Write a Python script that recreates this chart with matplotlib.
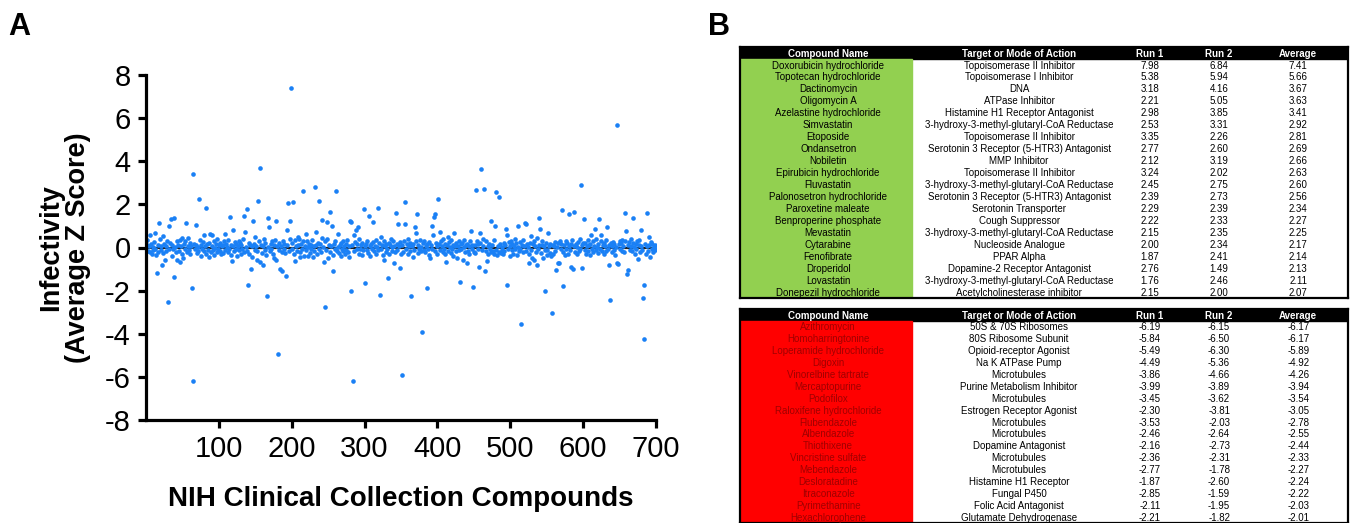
import numpy as np
import matplotlib
matplotlib.use("Agg")
import matplotlib.pyplot as plt
from matplotlib.patches import Rectangle

# ---- panel A: average Z score per compound (compound index 1..700) ----
z_scores = [
    0.35, 0.12, -0.15, 0.05, 0.57, -0.22, 0.18, -0.30, 0.02, -0.10,
    0.25, 0.68, -0.05, -0.35, -1.17, 0.10, -0.20, 1.13, 0.40, -0.12,
    0.08, -0.80, -0.25, 0.55, 0.15, -0.57, 0.05, -0.18, 0.30, -2.55,
    -0.08, 1.00, 0.20, 1.34, -0.40, 0.12, -0.05, -1.38, 1.39, 0.03,
    -0.22, 0.28, -0.60, 0.10, -0.15, -0.67, 0.35, 0.07, -0.28, 0.45,
    -0.50, 0.15, -0.05, 0.30, 1.14, -0.20, 0.08, 0.45, -0.12, 0.22,
    -0.30, 0.05, -1.89, 3.41, -6.17, 0.18, -0.08, 1.04, 0.12, -0.25,
    0.02, -0.15, 2.27, 0.35, -0.40, 0.10, -0.05, 0.25, 0.59, -0.18,
    0.07, -0.30, 1.81, 0.15, -0.10, -0.43, 0.20, 0.62, -0.22, 0.05,
    0.60, -0.12, 0.28, -0.35, 0.00, 0.15, -0.20, 0.38, -0.08, 0.10,
    -0.15, 0.22, -0.30, 0.05, 0.12, -0.25, 0.30, 0.62, -0.10, 0.18,
    0.02, -0.20, 0.35, -0.05, 1.41, 0.10, -0.35, -0.63, 0.79, 0.08,
    -0.18, 0.25, -0.08, 0.15, -0.40, 0.05, 0.30, -0.12, 0.20, -0.28,
    0.10, -0.05, 0.40, 1.45, -0.20, 0.73, 0.03, 1.79, -0.15, -1.76,
    0.22, -0.30, 0.12, -1.00, 0.05, -0.45, 1.24, 0.18, -0.10, 0.50,
    0.08, -0.57, -0.15, 2.17, 0.30, 3.67, -0.65, 0.12, -0.25, -0.83,
    0.05, 0.40, -0.10, 0.20, -0.35, -2.27, 1.39, 0.02, 0.94, -0.18,
    0.15, -0.05, 0.28, -0.30, 0.10, -0.48, 0.35, 1.24, -0.60, 0.05,
    -4.92, 0.22, -0.12, -1.00, 0.08, -0.20, -1.10, 0.30, -0.05, 0.15,
    -0.25, -1.34, 0.80, 0.10, 2.07, -0.15, 1.22, 0.40, 7.41, -0.08,
    0.20, 2.13, -0.30, 0.35, -0.62, 0.05, -0.15, 0.50, 0.10, 0.40,
    -0.22, -0.45, 0.15, -0.05, 2.63, 0.28, -0.40, 0.08, 0.62, -0.12,
    0.30, -0.40, 0.02, 0.18, -0.25, 0.12, -0.08, 0.35, -0.45, 0.05,
    -0.18, 2.81, 0.73, 0.10, -0.30, 0.22, -0.05, 2.14, 0.15, -0.20,
    0.45, 1.28, 0.02, -0.68, -2.78, 0.30, -0.10, 1.16, 0.38, -0.48,
    0.10, 1.65, -0.20, 0.05, 0.99, -0.35, -1.07, 0.15, -0.08, 0.28,
    2.60, -0.15, 0.02, 0.62, -0.25, 0.12, -0.40, 0.20, -0.05, 0.30,
    -0.18, 0.08, -0.30, 0.18, -0.10, 0.35, -0.22, 0.05, -0.45, 1.22,
    1.18, -2.01, 0.10, -6.17, -0.15, 0.59, 0.25, 0.80, -0.08, 0.15,
    0.94, -0.28, 0.40, -0.05, 0.12, -0.35, 0.22, -0.12, 1.78, 0.05,
    -1.65, 0.18, -0.10, 0.30, -0.25, 1.45, 0.05, -0.40, 0.15, -0.05,
    0.25, 1.17, -0.18, 0.08, -0.30, 0.35, 0.02, -0.12, 1.81, 0.20,
    -2.22, -0.08, 0.49, 0.12, -0.35, -0.59, 0.28, 0.05, -0.20, 0.15,
    -0.05, -1.42, 0.22, -0.28, 0.10, 0.40, -0.15, 0.02, 0.30, -0.70,
    0.08, -0.22, 1.62, 0.18, -0.10, 1.11, 0.05, -0.97, 0.25, -0.30,
    -5.89, 0.12, -0.20, 0.30, 1.07, 2.11, -0.05, 0.15, -0.30, 0.40,
    0.05, -0.15, 0.22, -2.24, 0.08, -0.43, 0.18, -0.10, 0.93, 0.28,
    0.65, 1.56, -0.25, 0.10, -0.05, 0.35, -0.18, 0.02, -3.94, 0.20,
    -0.12, 0.30, -0.22, 0.05, -1.89, 0.15, -0.08, 0.25, -0.35, -0.50,
    0.12, 0.99, -0.05, 0.60, 1.42, 1.55, -0.15, 0.20, -0.28, 0.08,
    2.25, 0.15, 0.73, -0.10, 0.30, 0.05, -0.20, 0.40, -0.05, 0.18,
    -0.30, -0.66, 0.10, 0.49, -0.15, 0.25, 0.02, -0.25, 0.35, -0.08,
    0.12, -0.40, 0.68, 0.05, -0.18, 0.22, -0.50, 0.08, -0.12, 0.30,
    -1.61, 0.15, -0.05, 0.20, -0.60, 0.02, 0.35, -0.22, 0.10, -0.74,
    0.18, -0.15, 0.05, -0.30, 0.28, 0.76, -0.08, 0.12, -1.85, -0.20,
    0.10, -0.25, 2.66, 0.30, -0.05, 0.15, -0.90, 0.22, 0.65, 3.63,
    -0.12, 0.40, 0.05, 2.69, -1.08, -0.18, 0.28, -0.63, 0.08, -0.30,
    0.18, -0.05, 1.22, -0.22, 0.12, -0.15, 0.35, -0.28, 1.00, 2.56,
    -0.10, -0.35, 0.05, 2.34, -0.20, 0.15, -0.25, -0.12, 0.02, -0.30,
    0.20, -0.15, 0.10, 0.88, -1.75, 0.60, -0.08, 0.25, -0.40, 0.05,
    0.30, -0.12, 0.15, -0.28, 0.08, 0.40, -0.05, 0.20, -0.35, 0.02,
    0.99, -0.18, 0.25, -0.08, -3.54, 0.12, -0.22, 0.35, 0.05, 1.14,
    1.10, -0.15, 0.18, 0.02, -0.30, -0.74, 0.22, 0.54, -0.10, -0.48,
    0.15, 0.30, -0.60, 0.08, -0.20, -0.79, 0.45, -0.05, 0.12, 1.39,
    0.88, -0.25, 0.10, 0.28, -0.50, 0.05, -0.12, -2.03, 0.20, -0.35,
    -0.10, 0.65, 0.05, -0.25, 0.18, -0.40, -3.05, 0.12, -0.30, 0.08,
    0.25, -0.15, -1.05, 0.02, -0.74, 0.20, -0.70, 0.30, -0.08, 0.15,
    1.72, -0.20, -1.79, 0.10, -0.35, 0.30, -0.05, 0.22, -0.28, 0.05,
    1.55, -0.12, 0.18, -0.90, 0.35, -1.00, 1.64, 0.08, -0.22, 0.15,
    -0.30, 0.02, 0.25, -0.15, 0.40, -0.05, 2.92, 0.12, -0.93, 0.20,
    1.31, -0.10, 0.22, -0.28, 0.05, 0.35, -0.15, 0.12, -0.35, 0.18,
    0.60, -0.05, 0.28, -0.20, 0.08, 0.85, -0.12, 0.40, 0.02, -0.25,
    0.15, 1.30, -0.08, 0.30, 0.57, -0.18, 0.10, -0.30, 0.22, 0.05,
    -0.15, 0.35, 0.96, -0.05, 0.12, -0.80, -2.44, 0.20, -0.22, 0.08,
    0.25, -0.10, 0.15, -0.35, 0.02, -0.73, 5.66, -0.78, 0.18, 0.30,
    -0.05, 0.20, -0.15, 0.35, 0.08, -0.22, 1.58, 0.30, 0.77, -1.24,
    -1.04, 0.12, 0.25, -0.10, 0.40, 0.05, -0.18, 0.22, 1.38, 0.02,
    -0.30, 0.15, -0.08, 0.28, -0.55, 0.10, 0.35, -0.20, 0.79, 0.05,
    -0.12, -2.33, -1.72, -4.26, 0.18, -0.28, 1.61, 0.08, -0.15, 0.49,
    0.12, -0.43, 0.25, -0.05, 0.15, -0.20, 0.02, -0.12, 0.10, -0.08,
]
compound_idx = np.arange(1, len(z_scores) + 1)
x_ticks = [100, 200, 300, 400, 500, 600, 700]
y_ticks = [-8, -6, -4, -2, 0, 2, 4, 6, 8]

# ---- panel B: top hits ----
up_names = ["Doxorubicin hydrochloride", "Topotecan hydrochloride", "Dactinomycin",
            "Oligomycin A", "Azelastine hydrochloride", "Simvastatin", "Etoposide",
            "Ondansetron", "Nobiletin", "Epirubicin hydrochloride", "Fluvastatin",
            "Palonosetron hydrochloride", "Paroxetine maleate", "Benproperine phosphate",
            "Mevastatin", "Cytarabine", "Fenofibrate", "Droperidol", "Lovastatin",
            "Donepezil hydrochloride"]
up_targets = ["Topoisomerase II Inhibitor", "Topoisomerase I Inhibitor", "DNA",
              "ATPase Inhibitor", "Histamine H1 Receptor Antagonist",
              "3-hydroxy-3-methyl-glutaryl-CoA Reductase", "Topoisomerase II Inhibitor",
              "Serotonin 3 Receptor (5-HTR3) Antagonist", "MMP Inhibitor",
              "Topoisomerase II Inhibitor", "3-hydroxy-3-methyl-glutaryl-CoA Reductase",
              "Serotonin 3 Receptor (5-HTR3) Antagonist", "Serotonin Transporter",
              "Cough Suppressor", "3-hydroxy-3-methyl-glutaryl-CoA Reductase",
              "Nucleoside Analogue", "PPAR Alpha", "Dopamine-2 Receptor Antagonist",
              "3-hydroxy-3-methyl-glutaryl-CoA Reductase", "Acetylcholinesterase inhibitor"]
up_run1 = [7.98, 5.38, 3.18, 2.21, 2.98, 2.53, 3.35, 2.77, 2.12, 3.24,
           2.45, 2.39, 2.29, 2.22, 2.15, 2.00, 1.87, 2.76, 1.76, 2.15]
up_run2 = [6.84, 5.94, 4.16, 5.05, 3.85, 3.31, 2.26, 2.60, 3.19, 2.02,
           2.75, 2.73, 2.39, 2.33, 2.35, 2.34, 2.41, 1.49, 2.46, 2.00]
up_avg = [7.41, 5.66, 3.67, 3.63, 3.41, 2.92, 2.81, 2.69, 2.66, 2.63,
          2.60, 2.56, 2.34, 2.27, 2.25, 2.17, 2.14, 2.13, 2.11, 2.07]

down_names = ["Azithromycin", "Homoharringtonine", "Loperamide hydrochloride", "Digoxin",
              "Vinorelbine tartrate", "Mercaptopurine", "Podofilox",
              "Raloxifene hydrochloride", "Flubendazole", "Albendazole", "Thiothixene",
              "Vincristine sulfate", "Mebendazole", "Desloratadine", "Itraconazole",
              "Pyrimethamine", "Hexachlorophene"]
down_targets = ["50S & 70S Ribosomes", "80S Ribosome Subunit", "Opioid-receptor Agonist",
                "Na K ATPase Pump", "Microtubules", "Purine Metabolism Inhibitor",
                "Microtubules", "Estrogen Receptor Agonist", "Microtubules", "Microtubules",
                "Dopamine Antagonist", "Microtubules", "Microtubules",
                "Histamine H1 Receptor", "Fungal P450", "Folic Acid Antagonist",
                "Glutamate Dehydrogenase"]
down_run1 = [-6.19, -5.84, -5.49, -4.49, -3.86, -3.99, -3.45, -2.30, -3.53, -2.46,
             -2.16, -2.36, -2.77, -1.87, -2.85, -2.11, -2.21]
down_run2 = [-6.15, -6.50, -6.30, -5.36, -4.66, -3.89, -3.62, -3.81, -2.03, -2.64,
             -2.73, -2.31, -1.78, -2.60, -1.59, -1.95, -1.82]
down_avg = [-6.17, -6.17, -5.89, -4.92, -4.26, -3.94, -3.54, -3.05, -2.78, -2.55,
            -2.44, -2.33, -2.27, -2.24, -2.22, -2.03, -2.01]

headers = ["Compound Name", "Target or Mode of Action", "Run 1", "Run 2", "Average"]

plt.rcParams["font.family"] = ["Liberation Sans", "DejaVu Sans"]
plt.rcParams["axes.unicode_minus"] = False

fig = plt.figure(figsize=(13.53, 5.23), dpi=100)

# panel A
ax = fig.add_axes([146 / 1353, 1 - 420 / 523, 510 / 1353, 345 / 523])
ax.axhline(0, color="#222222", lw=1.6, zorder=1)
ax.scatter(compound_idx, z_scores, s=11, color="#1a80f5", linewidths=0, zorder=2)
ax.set_xlim(0, 700)
ax.set_ylim(-8, 8)
ax.set_xticks(x_ticks)
ax.set_yticks(y_ticks)
for s in ["top", "right"]:
    ax.spines[s].set_visible(False)
for s in ["left", "bottom"]:
    ax.spines[s].set_linewidth(2.3)
ax.tick_params(width=2.3, length=6, pad=5, labelsize=21)
ax.set_xlabel("NIH Clinical Collection Compounds", fontsize=20, fontweight="bold",
              labelpad=16)
ax.set_ylabel("Infectivity\n(Average Z Score)", fontsize=19.5, fontweight="bold",
              labelpad=10, linespacing=1.05)

fig.text(8 / 1353, 1 - 35 / 523, "A", fontsize=22, fontweight="bold")
fig.text(708 / 1353, 1 - 35 / 523, "B", fontsize=22, fontweight="bold")

col_x = [0.145, 0.459, 0.674, 0.788, 0.918]
name_w = 0.283


def draw_table(tax, names, targets, r1, r2, av, fill, name_color):
    n = len(names)
    tax.set_xlim(0, 1)
    tax.set_ylim(n + 1, 0)
    tax.set_xticks([])
    tax.set_yticks([])
    for sp in tax.spines.values():
        sp.set_linewidth(1.6)
    tax.add_patch(Rectangle((0, 0), 1, 1, color="black"))
    tax.add_patch(Rectangle((0, 1), name_w, n, color=fill))
    for x, h in zip(col_x, headers):
        tax.text(x, 0.55, h, ha="center", va="center", color="white",
                 fontsize=7, fontweight="bold")
    for i in range(n):
        y = i + 1.55
        vals = [names[i], targets[i], f"{r1[i]:.2f}", f"{r2[i]:.2f}", f"{av[i]:.2f}"]
        for j, (x, v) in enumerate(zip(col_x, vals)):
            tax.text(x, y, v, ha="center", va="center", fontsize=7,
                     color=name_color if j == 0 else "black")


t1 = fig.add_axes([740 / 1353, 1 - 298 / 523, 608 / 1353, 251 / 523])
draw_table(t1, up_names, up_targets, up_run1, up_run2, up_avg, "#92d050", "black")
t2 = fig.add_axes([740 / 1353, 1 - 523 / 523, 608 / 1353, 214 / 523])
draw_table(t2, down_names, down_targets, down_run1, down_run2, down_avg, "#ff0000", "#a00000")

fig.savefig("out.png", dpi=100)
